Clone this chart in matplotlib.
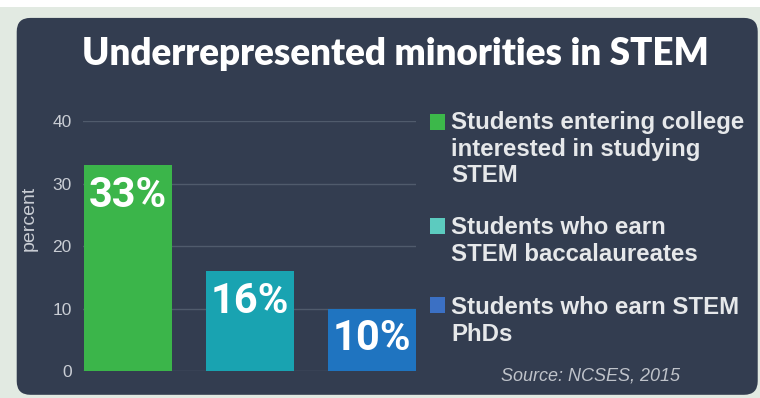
import matplotlib
matplotlib.use("Agg")
import matplotlib.pyplot as plt
from matplotlib.patches import FancyBboxPatch, Rectangle

# data
categories = ['Students entering college\ninterested in studying\nSTEM',
              'Students who earn\nSTEM baccalaureates',
              'Students who earn STEM\nPhDs']
values = [33, 16, 10]
bar_labels = ['33%', '16%', '10%']
yticks = [0, 10, 20, 30, 40]

bar_colors = ['#3bb54a', '#19a3b1', '#1f74c0']
key_colors = ['#3cb84a', '#5ccbbf', '#3b70c4']
panel = '#333d50'
txt = '#e6e8ea'
tick_col = '#c9cdd4'

fig = plt.figure(figsize=(7.6, 3.98), dpi=100)
fig.patch.set_facecolor('#e2eae2')
fig.patches.append(Rectangle((0, 0.982), 1, 0.018, transform=fig.transFigure,
                             facecolor='white', edgecolor='none', zorder=-2))
fig.patches.append(FancyBboxPatch((0.022, 0.008), 0.975, 0.947,
                                  boxstyle='round,pad=0,rounding_size=0.018',
                                  transform=fig.transFigure, facecolor=panel,
                                  edgecolor='none', mutation_aspect=760/398,
                                  zorder=-1))

ax = fig.add_axes([0.109, 0.0678, 0.438, 0.628])
ax.set_facecolor('none')
x = range(len(values))
bars = ax.bar(x, values, width=0.72, color=bar_colors, zorder=3)
ax.set_xlim(-0.37, 2.36)
ax.set_ylim(0, 40)
ax.set_yticks(yticks)
ax.set_xticks([])
ax.grid(axis='y', color='#505b6c', linewidth=1, zorder=0)
ax.set_axisbelow(True)
ax.tick_params(axis='y', length=0, pad=8, colors=tick_col, labelsize=12.5)
for t in ax.get_yticklabels():
    t.set_family('Liberation Sans')
for s in ax.spines.values():
    s.set_visible(False)
ax.set_ylabel('percent', color=tick_col, fontsize=14, family='Liberation Sans')
ax.yaxis.set_label_coords(-0.135, 0.61)

for b, lab in zip(bars, bar_labels):
    ax.annotate(lab, (b.get_x() + b.get_width() / 2, b.get_height()),
                xytext=(0, -7), textcoords='offset points', ha='center', va='top',
                color='white', fontsize=30, fontweight='bold', family='Roboto',
                zorder=4)

fig.text(0.52, 0.865, 'Underrepresented minorities in STEM', ha='center',
         va='center', color='white', fontsize=26.5, fontweight='heavy', family='Lato')

# legend keys and labels
key_bottoms = [0.673, 0.412, 0.2136]
text_tops = [0.721, 0.457, 0.256]
for yb, yt, c, lab in zip(key_bottoms, text_tops, key_colors, categories):
    fig.patches.append(Rectangle((0.566, yb), 0.0197, 0.040,
                                 transform=fig.transFigure, facecolor=c,
                                 edgecolor='none'))
    fig.text(0.594, yt, lab, color=txt, fontsize=17.3, fontweight='bold',
             va='top', ha='left', family='Liberation Sans', linespacing=1.2)

fig.text(0.777, 0.055, 'Source: NCSES, 2015', color='#bfc3ca', fontsize=13,
         style='italic', ha='center', va='center', family='Liberation Sans')

fig.savefig('out.png', dpi=100, facecolor=fig.get_facecolor())
